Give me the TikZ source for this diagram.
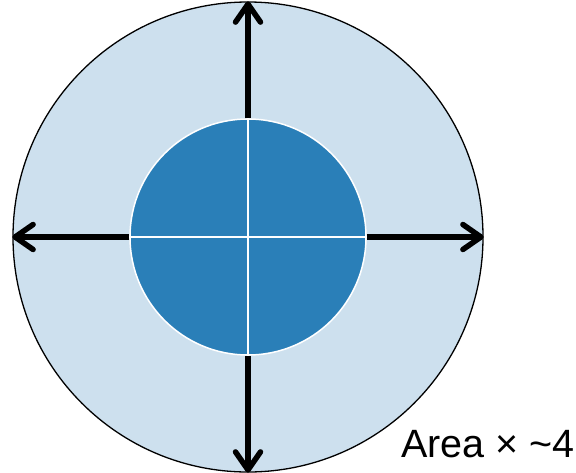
\documentclass[tikz,border=0pt]{standalone}
\usepackage{fontspec}
\setmainfont{Liberation Sans}
\usetikzlibrary{arrows.meta}
\definecolor{lightb}{HTML}{CDE0EE}
\definecolor{darkb}{HTML}{2A7FB8}
\begin{document}
\begin{tikzpicture}[x=1pt,y=-1pt,
  arr/.style={line width=5.5pt, -{Straight Barb[length=18pt,width=25pt,round]}},
  divider/.style={white, line width=1.5pt}]
\useasboundingbox (0,0) rectangle (576,472);
\node[circle, draw=black, line width=1.3pt, fill=lightb, minimum size=470pt, inner sep=0pt] (outer) at (248,237) {};
\node[circle, draw=white, line width=1.5pt, fill=darkb, minimum size=236pt, inner sep=0pt] (inner) at (248,237) {};
\draw[divider] (inner.north) -- (inner.south);
\draw[divider] (inner.west) -- (inner.east);
\draw[arr] (inner.north) -- (outer.north);
\draw[arr] (inner.south) -- (outer.south);
\draw[arr] (inner.west) -- (outer.west);
\draw[arr] (inner.east) -- (outer.east);
\node[anchor=base west, inner sep=0pt, font=\fontsize{39.5}{42}\selectfont] (label) at (401,457) {Area × \textasciitilde 4};
\end{tikzpicture}
\end{document}
